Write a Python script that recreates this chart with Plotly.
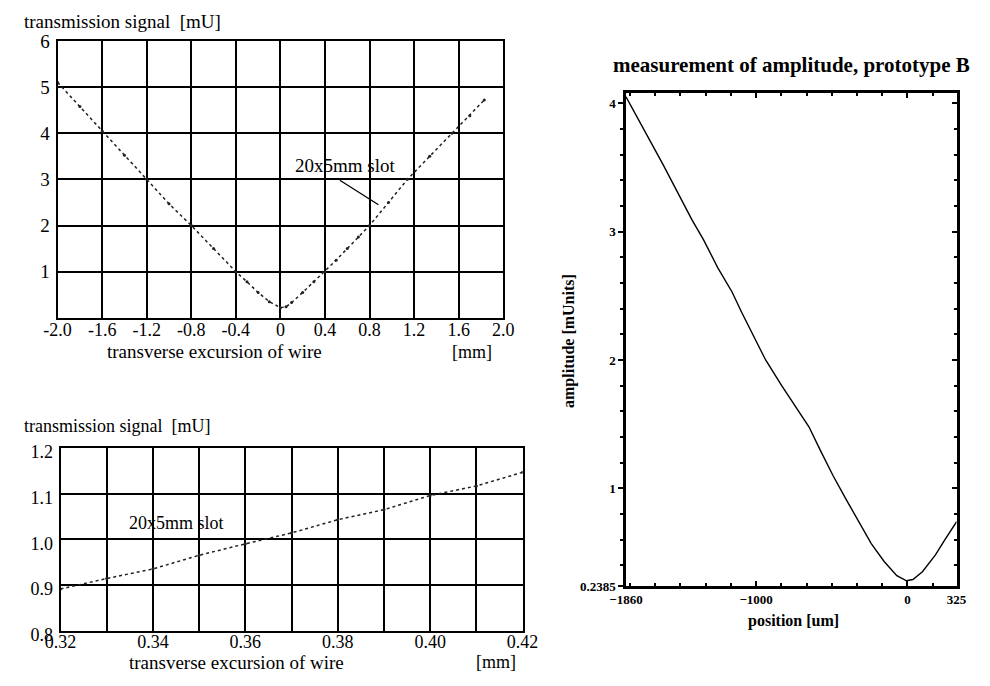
import plotly.graph_objects as go

W, H = 990, 686


def px(x):
    return x / W


def py(y):
    return 1 - y / H


# ---------------- data ----------------
# top-left: transmission signal vs transverse excursion (mm)
top_x = [-2.0, -1.8, -1.6, -1.4, -1.2, -1.0, -0.8, -0.6, -0.4, -0.3, -0.2, -0.1,
         0.0, 0.05, 0.1, 0.2, 0.3, 0.4, 0.5, 0.6, 0.7, 0.8, 0.97, 1.14, 1.34,
         1.54, 1.7, 1.83]
top_y = [5.1, 4.58, 4.05, 3.52, 3.0, 2.47, 2.0, 1.5, 1.0, 0.78, 0.55, 0.35,
         0.22, 0.24, 0.33, 0.55, 0.78, 1.0, 1.25, 1.5, 1.75, 2.0, 2.5, 3.0, 3.5,
         4.0, 4.38, 4.72]

# bottom-left: zoomed region
bot_x = [0.32, 0.33, 0.34, 0.35, 0.36, 0.37, 0.38, 0.39, 0.40, 0.41, 0.42]
bot_y = [0.891, 0.914, 0.935, 0.965, 0.99, 1.014, 1.043, 1.065, 1.096, 1.117, 1.147]

# right: measurement of amplitude, prototype B
amp_x = [-1860, -1614, -1423, -1349, -1254, -1159, -1095, -937, -831, -746,
         -651, -577, -492, -408, -324, -239, -154, -70, -6, 36, 99, 184, 248,
         305, 325]
amp_y = [4.05, 3.52, 3.09, 2.94, 2.72, 2.53, 2.37, 2.0, 1.80, 1.65, 1.48, 1.30,
         1.10, 0.92, 0.75, 0.57, 0.43, 0.32, 0.28, 0.29, 0.35, 0.48, 0.60, 0.71,
         0.74]

top_xticks = [-2.0, -1.6, -1.2, -0.8, -0.4, 0.0, 0.4, 0.8, 1.2, 1.6, 2.0]
top_xlabels = ["-2.0", "-1.6", "-1.2", "-0.8", "-0.4", "0", "0.4", "0.8", "1.2", "1.6", "2.0"]
top_yticks = [1, 2, 3, 4, 5, 6]
top_ylabels = ["1", "2", "3", "4", "5", "6"]

bot_xticks = [0.32, 0.33, 0.34, 0.35, 0.36, 0.37, 0.38, 0.39, 0.40, 0.41, 0.42]
bot_xlabels = ["0.32", "", "0.34", "", "0.36", "", "0.38", "", "0.40", "", "0.42"]
bot_yticks = [0.8, 0.9, 1.0, 1.1, 1.2]
bot_ylabels = ["0.8", "0.9", "1.0", "1.1", "1.2"]

amp_xticks = [-1860, -1000, 0, 325]
amp_xlabels = ["\u22121860", "\u22121000", "0", "325"]
amp_yticks = [0.2385, 1, 2, 3, 4]
amp_ylabels = ["0.2385", "1", "2", "3", "4"]

SERIF = "Liberation Serif"

fig = go.Figure()

fig.add_trace(go.Scatter(
    x=top_x, y=top_y, xaxis="x", yaxis="y", mode="lines+markers",
    line=dict(color="#222", width=1.5, dash="dot"),
    marker=dict(size=3, color="#222"), showlegend=False, hoverinfo="skip"))

fig.add_trace(go.Scatter(
    x=bot_x, y=bot_y, xaxis="x2", yaxis="y2", mode="lines+markers",
    line=dict(color="#222", width=1.5, dash="dot"),
    marker=dict(size=3, color="#222"), showlegend=False, hoverinfo="skip"))

fig.add_trace(go.Scatter(
    x=amp_x, y=amp_y, xaxis="x3", yaxis="y3", mode="lines",
    line=dict(color="black", width=1.4), showlegend=False, hoverinfo="skip"))

# invisible trace for mirrored tick axes of right chart
fig.add_trace(go.Scatter(
    x=[amp_x[0]], y=[amp_y[0]], xaxis="x4", yaxis="y4", mode="markers",
    marker=dict(size=1, opacity=0), showlegend=False, hoverinfo="skip"))


def grid_common(size):
    return dict(showgrid=True, gridcolor="black", gridwidth=2,
                showline=True, linecolor="black", linewidth=2, mirror=True,
                zeroline=False, ticks="",
                tickfont=dict(family=SERIF, size=size, color="black"),
                fixedrange=True)


layout = dict(
    width=W, height=H,
    margin=dict(l=0, r=0, t=0, b=0),
    paper_bgcolor="white", plot_bgcolor="white",
    font=dict(family=SERIF, color="black"),
    xaxis=dict(domain=[px(42), px(503)], anchor="y", range=[-2.0, 2.0],
               tickmode="array", tickvals=top_xticks, ticktext=top_xlabels,
               ticklabelstandoff=-5, **grid_common(18)),
    yaxis=dict(domain=[py(319), py(32)], anchor="x", range=[0, 6],
               tickmode="array", tickvals=top_yticks, ticktext=top_ylabels,
               ticklabelstandoff=2, **grid_common(19)),
    xaxis2=dict(domain=[px(45), px(523)], anchor="y2", range=[0.32, 0.42],
                tickmode="array", tickvals=bot_xticks, ticktext=bot_xlabels,
                ticklabelstandoff=-6, **grid_common(18)),
    yaxis2=dict(domain=[py(643), py(454)], anchor="x2", range=[0.8, 1.2],
                tickmode="array", tickvals=bot_yticks, ticktext=bot_ylabels,
                ticklabelstandoff=2, ticklabelshift=4, **grid_common(18)),
    xaxis3=dict(domain=[px(630), px(972)], anchor="y3", range=[-1860, 325],
                tickmode="array", tickvals=amp_xticks, ticktext=amp_xlabels,
                showgrid=False, zeroline=False, showline=True, linecolor="black", linewidth=2.5,
                ticks="inside", ticklen=5, tickwidth=1.5, tickcolor="black",
                minor=dict(tick0=0, dtick=500 / 3, ticks="inside", ticklen=3, tickcolor="black"),
                tickfont=dict(family=SERIF, size=13, color="black", weight="bold"),
                fixedrange=True),
    yaxis3=dict(domain=[py(597), py(86)], anchor="x3", range=[0.2385, 4.08],
                tickmode="array", tickvals=amp_yticks, ticktext=amp_ylabels,
                showgrid=False, zeroline=False, showline=True, linecolor="black", linewidth=2.5,
                ticks="outside", ticklen=5, tickwidth=1.5, tickcolor="black",
                minor=dict(tick0=0, dtick=0.2, ticks="outside", ticklen=3, tickcolor="black"),
                tickfont=dict(family=SERIF, size=13, color="black", weight="bold"),
                fixedrange=True),
    xaxis4=dict(overlaying="x3", side="top", anchor="y4", range=[-1860, 325],
                tickmode="array", tickvals=[-1000, 0], showticklabels=False,
                showgrid=False, zeroline=False, showline=True, linecolor="black", linewidth=2.5,
                ticks="inside", ticklen=5, tickwidth=1.5, tickcolor="black",
                minor=dict(tick0=0, dtick=500 / 3, ticks="inside", ticklen=3, tickcolor="black"),
                fixedrange=True),
    yaxis4=dict(overlaying="y3", side="right", anchor="x4", range=[0.2385, 4.08],
                tickmode="array", tickvals=[1, 2, 3, 4], showticklabels=False,
                showgrid=False, zeroline=False, showline=True, linecolor="black", linewidth=2.5,
                ticks="inside", ticklen=5, tickwidth=1.5, tickcolor="black",
                minor=dict(tick0=0, dtick=0.2, ticks="inside", ticklen=3, tickcolor="black"),
                fixedrange=True),
)
fig.update_layout(**layout)


def paper_text(text, x, y, size, xanchor="left", bold=False, angle=0):
    fig.add_annotation(
        text=text, x=px(x), y=py(y), xref="paper", yref="paper",
        xanchor=xanchor, yanchor="middle", showarrow=False, textangle=angle,
        font=dict(family=SERIF, size=size, color="black", weight="bold" if bold else "normal"))


# top-left titles
paper_text("transmission signal  [mU]", 5, 12, 19)
paper_text("transverse excursion of wire", 204, 354, 19, xanchor="center")
paper_text("[mm]", 471, 354, 18, xanchor="center")

# bottom-left titles
paper_text("transmission signal  [mU]", 5, 431, 18)
paper_text("transverse excursion of wire", 227, 676, 19, xanchor="center")
paper_text("[mm]", 495, 676, 18, xanchor="center")

# right chart titles
paper_text("measurement of amplitude, prototype B", 801, 57, 21, xanchor="center", bold=True)
paper_text("position [um]", 803, 633, 16, xanchor="center", bold=True)
paper_text("amplitude [mUnits]", 571, 343, 16, xanchor="center", bold=True, angle=-90)

# "20x5mm slot" labels
fig.add_annotation(text="20x5mm slot", x=0.58, y=3.3, xref="x", yref="y",
                   showarrow=False, font=dict(family=SERIF, size=19, color="black"))
fig.add_annotation(x=0.88, y=2.45, ax=0.52, ay=3.0, xref="x", yref="y",
                   axref="x", ayref="y", text="", showarrow=True,
                   arrowhead=0, arrowwidth=1.3, arrowcolor="black")
fig.add_annotation(text="20x5mm slot", x=0.345, y=1.035, xref="x2", yref="y2",
                   showarrow=False, font=dict(family=SERIF, size=18, color="black"))

fig.write_html("out.html")
